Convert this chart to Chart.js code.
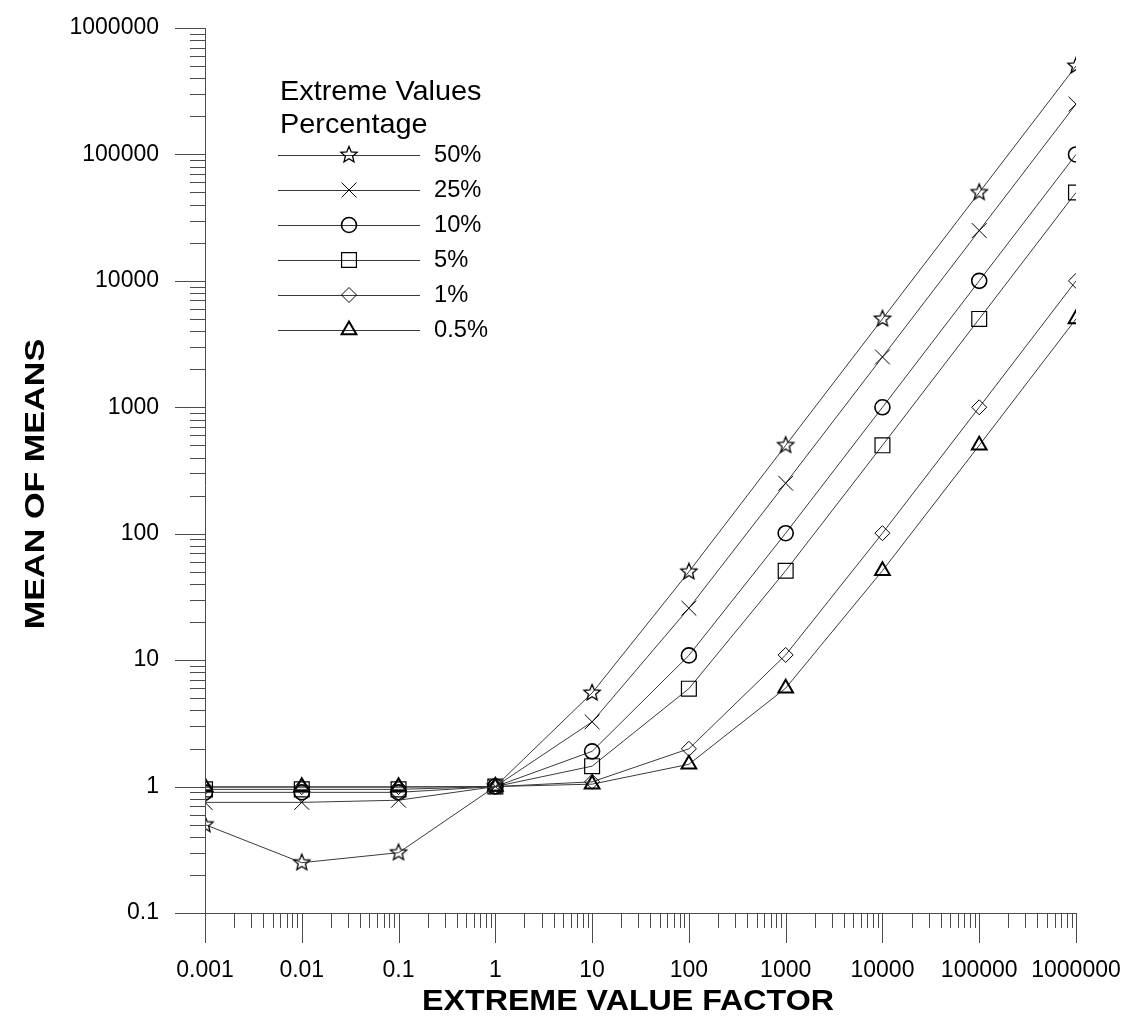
<!DOCTYPE html>
<html>
<head>
<meta charset="utf-8">
<script src="https://cdn.jsdelivr.net/npm/chart.js@4/dist/chart.umd.min.js"></script>
<style>
  html, body { margin: 0; padding: 0; background: #fff; }
  canvas { display: block; }
</style>
</head>
<body>
<canvas id="chart" width="1139" height="1019"></canvas>
<script>

// extreme value factor (x)
var factors = [0.001, 0.01, 0.1, 1, 10, 100, 1000, 10000, 100000, 1000000];

// mean of means per extreme values percentage
var pct50  = [0.5, 0.25, 0.3, 1, 5.5, 50, 500, 5000, 50000, 500000];
var pct25  = [0.75, 0.75, 0.78, 1, 3.25, 25.75, 250.75, 2500, 25000, 250000];
var pct10  = [0.9, 0.9, 0.9, 1, 1.9, 10.9, 100.9, 1000, 10000, 100000];
var pct5   = [0.95, 0.95, 0.95, 1, 1.45, 5.95, 50.95, 500, 5000, 50000];
var pct1   = [0.99, 0.99, 0.99, 1, 1.09, 1.99, 10.99, 100.99, 1000, 10000];
var pct05  = [0.995, 0.995, 0.995, 1, 1.045, 1.5, 6, 50.995, 500, 5000];

var seriesNames = ['50%', '25%', '10%', '5%', '1%', '0.5%'];

var xTickLabels = ['0.001', '0.01', '0.1', '1', '10', '100', '1000', '10000', '100000', '1000000'];
var yTicks = [0.1, 1, 10, 100, 1000, 10000, 100000, 1000000];
var yTickLabels = ['0.1', '1', '10', '100', '1000', '10000', '100000', '1000000'];

var FONT = 'Arial, "Liberation Sans", sans-serif';

// hollow five point star used as a marker
function makeStar() {
  var c = document.createElement('canvas');
  c.width = 22; c.height = 22;
  var g = c.getContext('2d');
  g.beginPath();
  for (var i = 0; i < 10; i++) {
    var r = i % 2 === 0 ? 8.5 : 3.8;
    var a = -Math.PI / 2 + i * Math.PI / 5;
    var px = 11 + r * Math.cos(a), py = 11 + r * Math.sin(a);
    if (i === 0) g.moveTo(px, py); else g.lineTo(px, py);
  }
  g.closePath();
  g.strokeStyle = '#000';
  g.lineWidth = 1.3;
  g.stroke();
  return c;
}
var star = makeStar();

function series(label, vals, style, radius, bw) {
  return {
    label: label,
    data: factors.map((f, i) => ({x: f, y: vals[i]})),
    borderColor: '#3a3a3a',
    borderWidth: 1,
    pointStyle: style,
    pointRadius: radius,
    pointHoverRadius: radius,
    pointBorderColor: '#000',
    pointBackgroundColor: 'rgba(0,0,0,0)',
    pointBorderWidth: bw,
    tension: 0
  };
}

var datasets = [
  series(seriesNames[0], pct50, star, 9, 1),
  series(seriesNames[1], pct25, 'crossRot', 10.5, 1),
  series(seriesNames[2], pct10, 'circle', 7.5, 1.6),
  series(seriesNames[3], pct5, 'rect', 10.5, 1.2),
  series(seriesNames[4], pct1, 'rectRot', 7.5, 1),
  series(seriesNames[5], pct05, 'triangle', 8.5, 2)
];

// text stretched a bit wider, the original fonts run wide
function wideText(ctx, txt, x, y, sx) {
  ctx.save();
  ctx.translate(x, y);
  ctx.scale(sx, 1);
  ctx.fillText(txt, 0, 0);
  ctx.restore();
}

// axis lines, inner/outer ticks, titles and the legend box
var decorations = {
  id: 'decorations',
  afterDraw(chart) {
    var ctx = chart.ctx, a = chart.chartArea;
    var xs = chart.scales.x, ys = chart.scales.y;
    ctx.save();
    ctx.strokeStyle = '#4a4a4a';
    ctx.lineWidth = 1;
    ctx.beginPath();
    ctx.moveTo(a.left + 0.5, a.top);
    ctx.lineTo(a.left + 0.5, a.bottom + 30);
    ctx.moveTo(a.left - 30, a.bottom + 0.5);
    ctx.lineTo(a.right, a.bottom + 0.5);
    // x ticks
    factors.forEach((d, i) => {
      var px = Math.round(xs.getPixelForValue(d)) + 0.5;
      ctx.moveTo(px, a.bottom); ctx.lineTo(px, a.bottom + 30);
      if (i < factors.length - 1) {
        for (var k = 2; k <= 9; k++) {
          var mx = Math.round(xs.getPixelForValue(d * k)) + 0.5;
          ctx.moveTo(mx, a.bottom); ctx.lineTo(mx, a.bottom + 15);
        }
      }
    });
    // y ticks
    yTicks.forEach((d, i) => {
      var py = Math.round(ys.getPixelForValue(d)) + 0.5;
      ctx.moveTo(a.left - 30, py); ctx.lineTo(a.left, py);
      if (i < yTicks.length - 1) {
        for (var k = 2; k <= 9; k++) {
          var my = Math.round(ys.getPixelForValue(d * k)) + 0.5;
          ctx.moveTo(a.left - 15, my); ctx.lineTo(a.left, my);
        }
      }
    });
    ctx.stroke();

    // axis titles
    ctx.fillStyle = '#000';
    ctx.font = 'bold 29px ' + FONT;
    ctx.textAlign = 'center';
    ctx.textBaseline = 'middle';
    wideText(ctx, 'EXTREME VALUE FACTOR', 628, 1002, 1.11);
    ctx.save();
    ctx.translate(36, 484);
    ctx.rotate(-Math.PI / 2);
    ctx.font = 'bold 28px ' + FONT;
    wideText(ctx, 'MEAN OF MEANS', 0, 0, 1.22);
    ctx.restore();

    // legend
    ctx.font = '28px ' + FONT;
    ctx.textAlign = 'left';
    ctx.textBaseline = 'alphabetic';
    wideText(ctx, 'Extreme Values', 280, 100, 1.03);
    wideText(ctx, 'Percentage', 280, 133, 1.03);
    ctx.font = '23px ' + FONT;
    ctx.textBaseline = 'middle';
    chart.data.datasets.forEach((ds, i) => {
      var y = 155 + i * 35;
      ctx.strokeStyle = '#3a3a3a';
      ctx.lineWidth = 1;
      ctx.beginPath();
      ctx.moveTo(278, y + 0.5); ctx.lineTo(420, y + 0.5);
      ctx.stroke();
      ctx.strokeStyle = '#000';
      ctx.fillStyle = 'rgba(0,0,0,0)';
      ctx.lineWidth = ds.pointBorderWidth;
      Chart.helpers.drawPoint(ctx, {
        pointStyle: ds.pointStyle,
        radius: ds.pointRadius,
        borderWidth: ds.pointBorderWidth,
        rotation: 0
      }, 349, y);
      ctx.fillStyle = '#000';
      wideText(ctx, ds.label, 434, y + 1, 1.03);
    });
    ctx.restore();
  }
};

var ctx = document.getElementById('chart').getContext('2d');
var chart = new Chart(ctx, {
  type: 'line',
  data: { datasets: datasets },
  options: {
    responsive: false,
    animation: false,
    devicePixelRatio: 1,
    layout: { padding: { top: 28, right: 63, left: 0, bottom: 0 } },
    plugins: {
      legend: { display: false },
      tooltip: { enabled: false }
    },
    scales: {
      x: {
        type: 'logarithmic',
        min: 0.001,
        max: 1000000,
        grid: { display: false, drawTicks: false },
        border: { display: false },
        afterBuildTicks: s => { s.ticks = factors.map(v => ({value: v})); },
        afterFit: s => { s.height = 106; s.paddingLeft = 0; s.paddingRight = 0; },
        ticks: {
          autoSkip: false,
          maxRotation: 0,
          padding: 44,
          color: '#000',
          font: { family: FONT, size: 23 },
          callback: (v, i) => xTickLabels[i]
        }
      },
      y: {
        type: 'logarithmic',
        min: 0.1,
        max: 1000000,
        grid: { display: false, drawTicks: false },
        border: { display: false },
        afterBuildTicks: s => { s.ticks = yTicks.map(v => ({value: v})); },
        afterFit: s => { s.width = 205; s.paddingTop = 0; s.paddingBottom = 0; },
        ticks: {
          autoSkip: false,
          padding: 46,
          color: '#000',
          font: { family: FONT, size: 23 },
          callback: (v, i) => yTickLabels[i]
        }
      }
    }
  },
  plugins: [decorations]
});

</script>
</body>
</html>
